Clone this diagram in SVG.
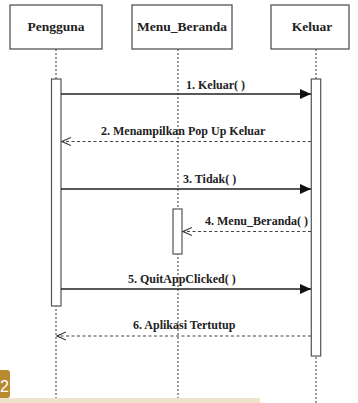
<svg xmlns="http://www.w3.org/2000/svg" width="358" height="403" viewBox="0 0 358 403">
  <defs>
    <style>
      .box { fill: #ffffff; stroke: #555555; stroke-width: 1.3; }
      .act { fill: #ffffff; stroke: #555555; stroke-width: 1.2; }
      .life { stroke: #666666; stroke-width: 1.3; stroke-dasharray: 2 2; fill: none; }
      .title { font-family: 'Liberation Serif', 'Times New Roman', serif; font-weight: bold; font-size: 13.5px; fill: #222222; text-anchor: middle; }
      .lbl { font-family: 'Liberation Serif', 'Times New Roman', serif; font-weight: bold; font-size: 12px; fill: #222222; }
      .call { stroke: #222222; stroke-width: 1.3; fill: none; }
      .ret { stroke: #444444; stroke-width: 1.1; stroke-dasharray: 3 2.5; fill: none; }
    </style>
    <marker id="filled" markerWidth="12" markerHeight="10" refX="11" refY="5" orient="auto" markerUnits="userSpaceOnUse">
      <path d="M0,0 L11,5 L0,10 Z" fill="#111111"/>
    </marker>
    <marker id="open" markerWidth="10" markerHeight="10" refX="9" refY="5" orient="auto" markerUnits="userSpaceOnUse">
      <path d="M0,1 L9,5 L0,9" fill="none" stroke="#333333" stroke-width="1.1"/>
    </marker>
  </defs>

  <rect width="358" height="403" fill="#ffffff"/>

  <!-- lifelines -->
  <g id="lifelines">
    <line class="life" x1="56" y1="49" x2="56" y2="403"/>
    <line class="life" x1="178" y1="49" x2="178" y2="403"/>
    <line class="life" x1="316" y1="49" x2="316" y2="403"/>
  </g>

  <g id="pengguna">
    <rect class="box" x="10" y="5" width="92" height="44"/>
    <text class="title" x="56" y="31">Pengguna</text>
    <rect class="act" x="51.5" y="79" width="9.5" height="227"/>
  </g>

  <g id="menu_beranda">
    <rect class="box" x="132" y="5" width="100" height="44"/>
    <text class="title" x="182" y="31">Menu_Beranda</text>
    <rect class="act" x="173" y="209" width="9" height="45"/>
  </g>

  <g id="keluar">
    <rect class="box" x="271" y="5" width="78" height="44"/>
    <text class="title" x="312" y="31">Keluar</text>
    <rect class="act" x="311.3" y="79" width="9.4" height="277"/>
  </g>

  <g id="connectors">
    <line class="call" x1="61" y1="94" x2="311" y2="94" marker-end="url(#filled)"/>
    <line class="ret" x1="311" y1="141.5" x2="62" y2="141.5" marker-end="url(#open)"/>
    <line class="call" x1="61" y1="189" x2="311" y2="189" marker-end="url(#filled)"/>
    <line class="ret" x1="311" y1="231.5" x2="183" y2="231.5" marker-end="url(#open)"/>
    <line class="call" x1="61" y1="289" x2="311" y2="289" marker-end="url(#filled)"/>
    <line class="ret" x1="311" y1="336" x2="57" y2="336" marker-end="url(#open)"/>
  </g>

  <g id="labels">
    <text class="lbl" x="186" y="89">1. Keluar( )</text>
    <text class="lbl" x="101" y="135">2. Menampilkan Pop Up Keluar</text>
    <text class="lbl" x="183" y="183">3. Tidak( )</text>
    <text class="lbl" x="205" y="225">4. Menu_Beranda( )</text>
    <text class="lbl" x="128" y="283">5. QuitAppClicked( )</text>
    <text class="lbl" x="133" y="329">6. Aplikasi Tertutup</text>
  </g>

  <!-- page footer strip -->
  <g id="footer">
    <rect x="0" y="398" width="260" height="5" fill="#efe3cc"/>
    <path d="M0,370 L7,370 Q10,370 10,373 L10,395 Q10,398 7,398 L0,398 Z" fill="#b98a30"/>
    <text x="0" y="392" font-family="'Liberation Sans', Arial, sans-serif" font-size="16" fill="#ffffff">2</text>
  </g>
</svg>
